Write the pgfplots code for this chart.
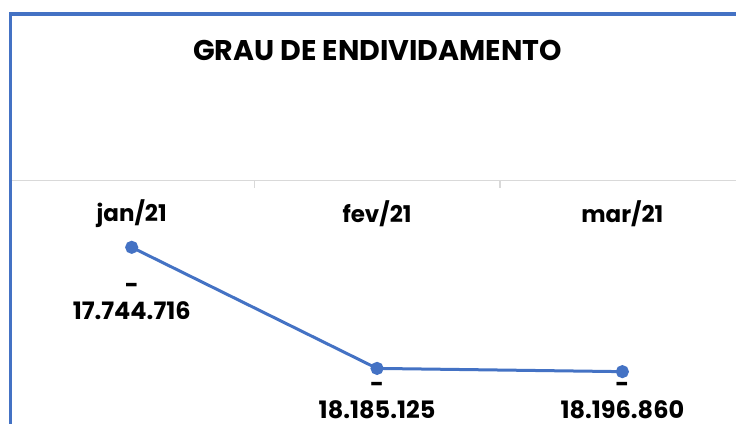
\documentclass[border=0pt]{standalone}
\usepackage{fontspec}
\setmainfont{Poppins}
\usepackage{pgfplots}
\pgfplotsset{compat=1.18}
\definecolor{lineblue}{HTML}{4472C4}
\definecolor{axgray}{HTML}{D9D9D9}
\begin{document}
\begin{tikzpicture}
\useasboundingbox (0,0) rectangle (736pt,423pt);
\clip (0,0) rectangle (736pt,423pt);
\fill[white] (0,0) rectangle (736pt,423pt);
\begin{axis}[
  at={(9.05pt,0pt)}, anchor=south west,
  scale only axis, width=736pt, height=242.3pt,
  xmin=-0.5, xmax=2.5,
  ymin=-18383600, ymax=-17502500,
  axis x line*=top, axis y line=none,
  axis line style={axgray, line width=1.6pt},
  xtick={0,1,2}, xticklabels={jan/21,fev/21,mar/21},
  major tick length=0pt,
  x tick label style={anchor=center, yshift=-33pt, font=\fontsize{23}{26}\selectfont\bfseries},
  extra x ticks={0.5,1.5}, extra x tick labels={},
  extra x tick style={major tick length=7pt, tick align=inside, tick style={axgray, line width=1.6pt}},
  ytick=\empty,
  clip=false,
  point meta=explicit symbolic,
  visualization depends on={\thisrow{dy}\as\dy},
  nodes near coords={-\\\pgfplotspointmeta},
  every node near coord/.append style={anchor=center, yshift=\dy pt, align=center, text=black,
    font=\fontsize{24}{26}\selectfont\bfseries},
]
\addplot[lineblue, line width=3pt, mark=*, mark size=5pt, mark options={fill=lineblue, draw=lineblue}]
  table[x=x, y=y, meta=lab] {
x y dy lab
0 -17744716 -54 17.744.716
1 -18185125 -32 18.185.125
2 -18196860 -29 18.196.860
};
\end{axis}
\draw[lineblue, line width=3.5pt] (10.3pt,-5pt) -- (10.3pt,408.8pt) -- (745pt,408.8pt);
\node[font=\fontsize{28.5}{32}\selectfont\bfseries] at (377.5pt,373pt) {GRAU DE ENDIVIDAMENTO};
\end{tikzpicture}
\end{document}
